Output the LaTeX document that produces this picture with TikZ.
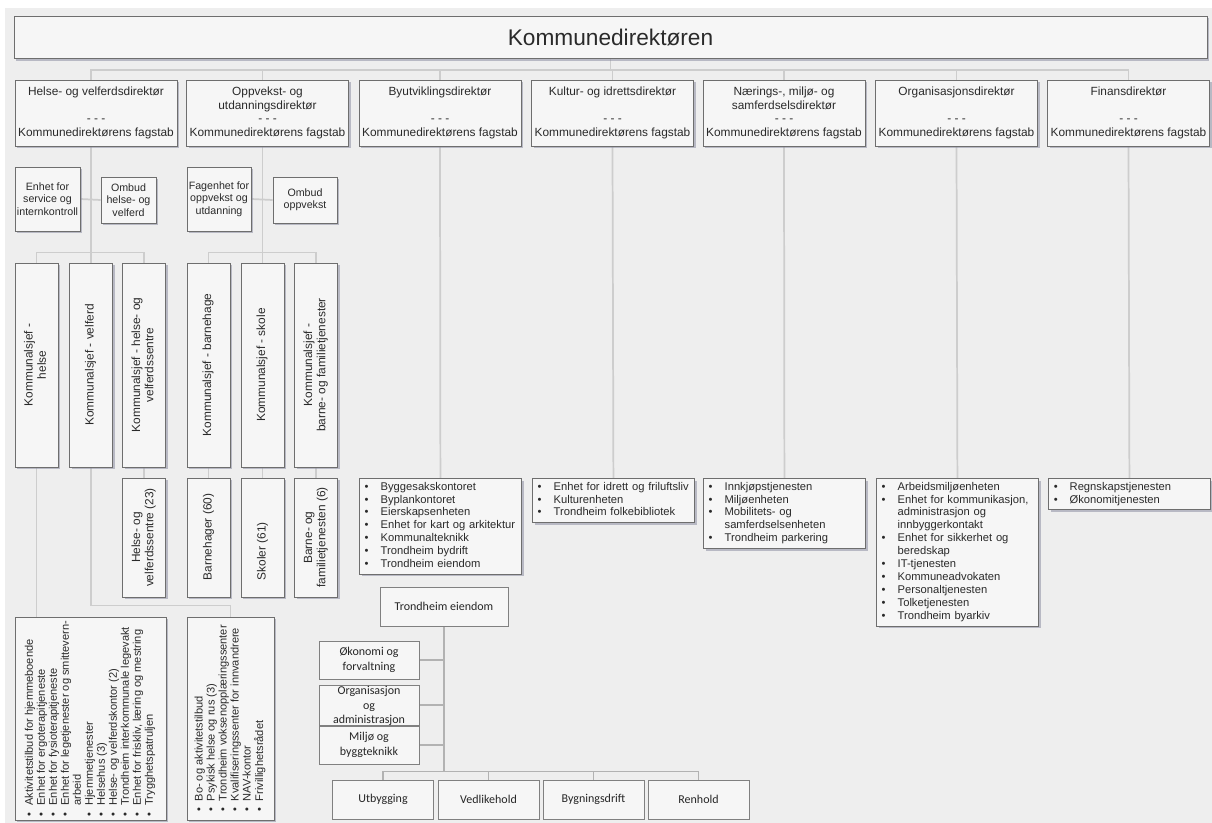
\documentclass[tikz,border=0pt]{standalone}
\usepackage{fontspec}
\usepackage{graphicx}
\setmainfont{Liberation Sans}
\newfontfamily\calibri{Carlito}
\usetikzlibrary{shadows, positioning, backgrounds}

\definecolor{bg}{HTML}{EEEEEE}
\definecolor{boxfill}{HTML}{F6F6F6}
\definecolor{boxline}{HTML}{6E6E6E}
\definecolor{linkc}{HTML}{CDCDCD}
\definecolor{shade}{HTML}{8C8EA2}
\definecolor{txt}{HTML}{2A2A2A}

\newcommand{\bul}{\textbullet}
\newcommand{\dirtext}[2]{#1\\\mbox{}#2\\- - -\\Kommunedirektørens fagstab}
\newcommand{\rot}[1]{\rotatebox{90}{\begin{tabular}{@{}c@{}}#1\end{tabular}}}
\newcommand{\rotl}[1]{\rotatebox{90}{\makebox[64pt][l]{#1}}}

\begin{document}
\begin{tikzpicture}[x=0.75pt, y=-0.75pt,
  box/.style={draw=boxline, fill=boxfill, line width=0.6pt, text=txt, inner sep=1pt,
    drop shadow={shadow xshift=1.6pt, shadow yshift=-1.6pt, fill=shade, opacity=0.55}},
  head/.style={box, minimum width=894.75pt, minimum height=32pt, font=\fontsize{17}{20}\selectfont},
  dir/.style={box, minimum width=121.5pt, minimum height=49.5pt, align=center, font=\fontsize{8.9}{10.1}\selectfont},
  unit/.style={box, align=center, font=\fontsize{8}{9.3}\selectfont},
  sjef/.style={box, minimum width=32.25pt, inner sep=0pt, font=\fontsize{8.9}{10}\selectfont},
  rlist/.style={box, inner sep=0pt, minimum height=152.25pt, font=\fontsize{8.3}{9}\selectfont},
  lst/.style={box, anchor=north west, text width=117.5pt, align=left, inner sep=2pt, font=\fontsize{8.4}{9.7}\selectfont},
  link/.style={draw=linkc, line width=1.3pt},
  te/.style={draw=black!50, fill=boxfill, line width=0.7pt, align=center, inner sep=0pt,
    text=black!85, font=\calibri\fontsize{9}{11}\selectfont},
  telink/.style={draw=black!30, line width=0.8pt}]

  \useasboundingbox (0,0) rectangle (1212,823);
  \begin{pgfonlayer}{background}
    \fill[white] (0,0) rectangle (1212,823);
    \fill[bg] (5,8) rectangle (1212,823);
  \end{pgfonlayer}

  % toppnivaa
  \node[head] (kd) at (610.5,37.4) {Kommunedirektøren};

  \node[dir] (hv) at (96,113) {\dirtext{Helse- og velferdsdirektør}{}};
  \node[dir] (ou) at (267.5,113) {\dirtext{Oppvekst- og}{utdanningsdirektør}};
  \node[dir] (by) at (440,113) {\dirtext{Byutviklingsdirektør}{}};
  \node[dir] (ki) at (612.5,113) {\dirtext{Kultur- og idrettsdirektør}{}};
  \node[dir] (nm) at (784,113) {\dirtext{Nærings-, miljø- og}{samferdselsdirektør}};
  \node[dir] (or) at (956.5,113) {\dirtext{Organisasjonsdirektør}{}};
  \node[dir] (fi) at (1128.5,113) {\dirtext{Finansdirektør}{}};

  % stab
  \node[unit, minimum width=48.75pt, minimum height=48pt] (esi) at (47.5,199) {Enhet for\\service og\\internkontroll};
  \node[unit, minimum width=41.25pt, minimum height=34.5pt] (ohv) at (128.5,200) {Ombud\\helse- og\\velferd};
  \node[unit, minimum width=48pt, minimum height=48pt] (fou) at (219,199) {Fagenhet for\\oppvekst og\\utdanning};
  \node[unit, minimum width=48pt, minimum height=34.5pt] (oo) at (305,200) {Ombud\\oppvekst};

  % kommunalsjefer
  \node[sjef, minimum height=153pt] (ksh) at (36.5,365) {\rot{Kommunalsjef -\\helse}};
  \node[sjef, minimum height=153pt] (ksv) at (91,365) {\rot{Kommunalsjef - velferd}};
  \node[sjef, minimum height=153pt] (kshv) at (144,365) {\rot{Kommunalsjef - helse- og\\velferdssentre}};
  \node[sjef, minimum height=153pt] (ksb) at (208.5,365) {\rot{Kommunalsjef - barnehage}};
  \node[sjef, minimum height=153pt] (kss) at (262.5,365) {\rot{Kommunalsjef - skole}};
  \node[sjef, minimum height=153pt] (ksbf) at (316,365) {\rot{Kommunalsjef -\\barne- og familietjenester}};

  \node[sjef, minimum height=89.25pt] (hvs) at (144,537.5) {\rot{Helse- og\\velferdssentre (23)}};
  \node[sjef, minimum height=89.25pt] (bh) at (208.5,537.5) {\rotl{Barnehager (60)}};
  \node[sjef, minimum height=89.25pt] (sk) at (262.5,537.5) {\rotl{Skoler (61)}};
  \node[sjef, minimum height=89.25pt] (bf) at (316,537.5) {\rot{Barne- og\\familietjenesten (6)}};

  % enheter helse og velferd
  \node[rlist, minimum width=113.25pt] (lh) at (90.5,718.5) {\rotatebox{90}{\begin{tabular}{@{}l@{\hspace{5pt}}l@{}}
    \bul & Aktivitetstilbud for hjemmeboende\\
    \bul & Enhet for ergoterapitjeneste\\
    \bul & Enhet for fysioterapitjeneste\\
    \bul & Enhet for legetjenester og smittevern-\\
         & arbeid\\
    \bul & Hjemmetjenester\\
    \bul & Helsehus (3)\\
    \bul & Helse- og velferdskontor (2)\\
    \bul & Trondheim interkommunale legevakt\\
    \bul & Enhet for friskliv, læring og mestring\\
    \bul & Trygghetspatruljen
  \end{tabular}}};
  \node[rlist, minimum width=65.25pt] (lv) at (230.5,718.5) {\rotatebox{90}{\begin{tabular}{@{}l@{\hspace{5pt}}l@{}}
    \bul & Bo- og aktivitetstilbud\\
    \bul & Psykisk helse og rus (3)\\
    \bul & Trondheim voksenopplæringssenter\\
    \bul & Kvalifiseringssenter for innvandrere\\
    \bul & NAV-kontor\\
    \bul & Frivillighetsrådet
  \end{tabular}}};

  % enheter oevrige direktoerer
  \node[lst] (byl) at (359,478) {\begin{tabular}{@{\hspace{2pt}}l@{\hspace{9pt}}l@{}}
    \bul & Byggesakskontoret\\
    \bul & Byplankontoret\\
    \bul & Eierskapsenheten\\
    \bul & Enhet for kart og arkitektur\\
    \bul & Kommunalteknikk\\
    \bul & Trondheim bydrift\\
    \bul & Trondheim eiendom
  \end{tabular}};
  \node[lst] (kil) at (532,478) {\begin{tabular}{@{\hspace{2pt}}l@{\hspace{9pt}}l@{}}
    \bul & Enhet for idrett og friluftsliv\\
    \bul & Kulturenheten\\
    \bul & Trondheim folkebibliotek
  \end{tabular}};
  \node[lst] (nml) at (703,478) {\begin{tabular}{@{\hspace{2pt}}l@{\hspace{9pt}}l@{}}
    \bul & Innkjøpstjenesten\\
    \bul & Miljøenheten\\
    \bul & Mobilitets- og\\
         & samferdselsenheten\\
    \bul & Trondheim parkering
  \end{tabular}};
  \node[lst] (orl) at (876,478) {\begin{tabular}{@{\hspace{2pt}}l@{\hspace{9pt}}l@{}}
    \bul & Arbeidsmiljøenheten\\
    \bul & Enhet for kommunikasjon,\\
         & administrasjon og\\
         & innbyggerkontakt\\
    \bul & Enhet for sikkerhet og\\
         & beredskap\\
    \bul & IT-tjenesten\\
    \bul & Kommuneadvokaten\\
    \bul & Personaltjenesten\\
    \bul & Tolketjenesten\\
    \bul & Trondheim byarkiv
  \end{tabular}};
  \node[lst] (fil) at (1048,478) {\begin{tabular}{@{\hspace{2pt}}l@{\hspace{9pt}}l@{}}
    \bul & Regnskapstjenesten\\
    \bul & Økonomitjenesten
  \end{tabular}};

  % Trondheim eiendom
  \node[te, minimum width=96pt, minimum height=29.25pt] (te) at (444,606.5) {Trondheim eiendom};
  \node[te, minimum width=75pt, minimum height=28.5pt] (ef) at (369,660) {Økonomi og\\forvaltning};
  \node[te, minimum width=75pt, minimum height=30pt, text depth=0pt] (oa) at (369,705) {Organisasjon\\og\\administrasjon};
  \node[te, minimum width=75pt, minimum height=28.5pt] (mb) at (369,745) {Miljø og\\byggteknikk};
  \node[te, minimum width=75.75pt, minimum height=29.25pt] (ut) at (383,799.5) {Utbygging};
  \node[te, minimum width=75.75pt, minimum height=29.25pt] (ve) at (488.5,799.5) {Vedlikehold};
  \node[te, minimum width=75.75pt, minimum height=29.25pt] (bd) at (593.5,799.5) {Bygningsdrift};
  \node[te, minimum width=75.75pt, minimum height=29.25pt] (re) at (698.5,799.5) {Renhold};

  % linjer
  \begin{pgfonlayer}{background}
    \draw[link] (kd.south) -- ++(0,11) -| (hv.north -| ksv.north);
    \draw[link] (kd.south) -- ++(0,11) -| (ou.north -| kss.north);
    \foreach \d in {by,ki,nm,or,fi}
      \draw[link] (kd.south) -- ++(0,11) -| (\d.north);

    \draw[link] (hv.south -| ksv.north) -- (ksv.north);
    \draw[link] (esi.east) -- (ohv.west);
    \draw[link] (ksh.north) -- ++(0,-10) -| (kshv.north);
    \draw[link] (ksh.south) -- (ksh.south |- lh.north);
    \draw[link] (ksv.south) -- ++(0,138) -| (lv.north);
    \draw[link] (kshv.south) -- (hvs.north);

    \draw[link] (ou.south -| kss.north) -- (kss.north);
    \draw[link] (fou.east) -- (oo.west);
    \draw[link] (ksb.north) -- ++(0,-10) -| (ksbf.north);
    \draw[link] (ksb.south) -- (bh.north);
    \draw[link] (kss.south) -- (sk.north);
    \draw[link] (ksbf.south) -- (bf.north);

    \draw[link] (by.south) -- (byl.north);
    \draw[link] (ki.south) -- (kil.north);
    \draw[link] (nm.south) -- (nml.north);
    \draw[link] (or.south) -- (orl.north);
    \draw[link] (fi.south) -- (fil.north);

    \draw[telink] (te.south) -- ++(0,145);
    \foreach \b in {ef,oa,mb}
      \draw[telink] (\b.east) -- (\b.east -| te.south);
    \foreach \b in {ut,ve,bd,re}
      \draw[telink] (te.south) -- ++(0,145) -| (\b.north);
  \end{pgfonlayer}
\end{tikzpicture}
\end{document}
